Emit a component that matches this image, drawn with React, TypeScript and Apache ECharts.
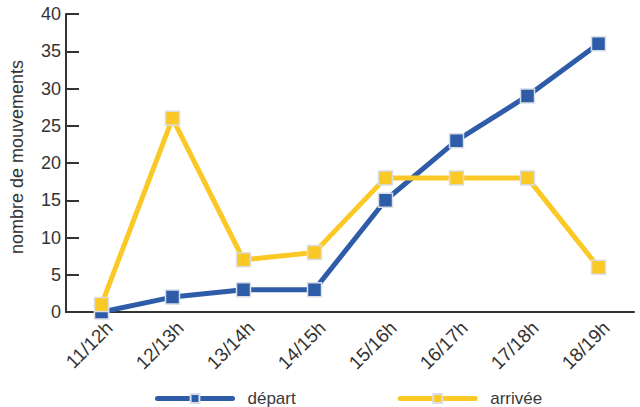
import React, { useEffect, useRef } from "react";
import * as echarts from "echarts";

const categories = ["11/12h", "12/13h", "13/14h", "14/15h", "15/16h", "16/17h", "17/18h", "18/19h"];
const depart = [0, 2, 3, 3, 15, 23, 29, 36];
const arrivee = [1, 26, 7, 8, 18, 18, 18, 6];
const yTicks = { min: 0, max: 40, interval: 5 };

export default function App() {
  const ref = useRef<HTMLDivElement>(null);
  useEffect(() => {
    if (!ref.current) return;
    const chart = echarts.init(ref.current, undefined, { renderer: "svg" });
    const font = "'Liberation Sans', Arial, sans-serif";
    const mk = (name: string, data: number[], color: string) => ({
      name,
      type: "line",
      data,
      symbol: "rect",
      symbolSize: 14,
      lineStyle: { color, width: 5 },
      itemStyle: { color, borderColor: "#d8dde6", borderWidth: 1.5 },
      emphasis: { disabled: true },
    });
    chart.setOption({
      animation: false,
      textStyle: { fontFamily: font },
      grid: { left: 64, right: 6, top: 14, bottom: 95, containLabel: false },
      legend: {
        bottom: -5,
        left: 150,
        itemWidth: 75,
        itemHeight: 11,
        itemGap: 102,
        lineStyle: { width: 5, cap: "round" },
        textStyle: { fontSize: 17, color: "#3a3a3a", fontFamily: font, padding: [0, 0, 0, 10] },
        data: ["départ", "arrivée"],
      },
      xAxis: {
        type: "category",
        data: categories,
        boundaryGap: true,
        axisLine: { lineStyle: { color: "#333", width: 2 } },
        axisTick: { inside: true, length: 5, lineStyle: { color: "#333", width: 2 } },
        axisLabel: {
          rotate: 45,
          fontSize: 19,
          lineHeight: 22,
          verticalAlign: "top",
          align: "right",
          color: "#333",
          margin: 5,
          fontFamily: font,
        },
      },
      yAxis: {
        type: "value",
        min: yTicks.min,
        max: yTicks.max,
        interval: yTicks.interval,
        name: "nombre de mouvements",
        nameLocation: "middle",
        nameGap: 40,
        nameTextStyle: { fontSize: 18, color: "#333", fontFamily: font, padding: [0, 0, 0, 12] },
        axisLine: { show: true, lineStyle: { color: "#333", width: 2 } },
        axisTick: { show: true, inside: true, length: 13, lineStyle: { color: "#333", width: 2 } },
        axisLabel: { fontSize: 18, color: "#333", margin: 5, fontFamily: font },
        splitLine: { show: false },
      },
      series: [mk("départ", depart, "#2f5ca8"), mk("arrivée", arrivee, "#fbc926")],
    });
    return () => chart.dispose();
  }, []);
  return <div ref={ref} style={{ width: 640, height: 407, position: "absolute", left: 0, top: 0 }} />;
}
